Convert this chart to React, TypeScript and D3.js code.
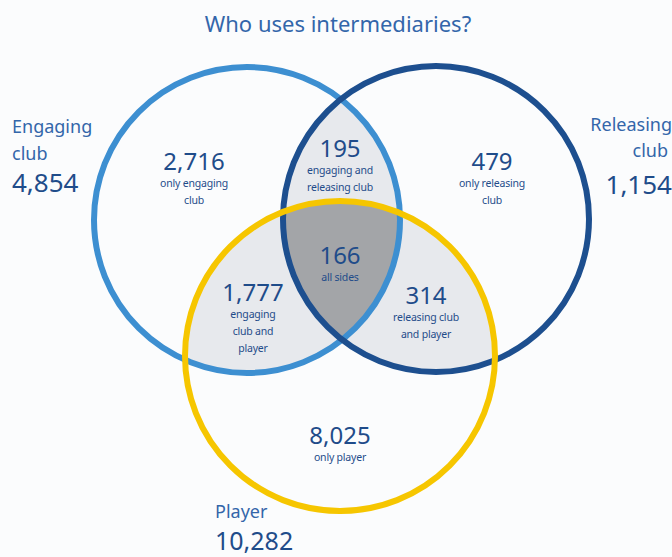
import React from "react";
import * as d3 from "d3";

const setNames = ["Engaging club", "Releasing club", "Player"];
const setTotals = [4854, 1154, 10282];
const regionValues = [2716, 479, 8025, 195, 1777, 314, 166];
const regionLabels = [
  ["only engaging", "club"],
  ["only releasing", "club"],
  ["only player"],
  ["engaging and", "releasing club"],
  ["engaging", "club and", "player"],
  ["releasing club", "and player"],
  ["all sides"],
];

const W = 672;
const H = 557;
const fmt = d3.format(",");

// layout (pixel geometry)
const circles = [
  { cx: 247, cy: 220, r: 153, color: "#3d8fd1" },
  { cx: 436, cy: 219, r: 153, color: "#1d4f8f" },
  { cx: 340, cy: 356, r: 155, color: "#f6c600" },
];
const regionPos: [number, number][] = [
  [194, 170],
  [492, 170],
  [340, 444],
  [340, 157],
  [253, 301],
  [426, 304],
  [340, 264],
];
const textColor = "#1f4c8a";

export default function App() {
  const arc = (c: { cx: number; cy: number; r: number }) => {
    const p = d3.path();
    p.arc(c.cx, c.cy, c.r, 0, Math.PI * 2);
    p.closePath();
    return p.toString();
  };
  return (
    <svg
      width={W}
      height={H}
      style={{ position: "absolute", left: 0, top: 0, background: "#fbfcfd" }}
      fontFamily="'Noto Sans', 'Open Sans', sans-serif"
    >
      <defs>
        {circles.map((c, i) => (
          <clipPath id={`clip${i}`} key={i}>
            <path d={arc(c)} />
          </clipPath>
        ))}
      </defs>
      <rect width={W} height={H} fill="#fbfcfd" />
      {/* pairwise intersections */}
      <g clipPath="url(#clip0)">
        <path d={arc(circles[1])} fill="#e7e9ed" />
        <path d={arc(circles[2])} fill="#e7e9ed" />
      </g>
      <g clipPath="url(#clip1)">
        <path d={arc(circles[2])} fill="#e7e9ed" />
      </g>
      {/* triple intersection */}
      <g clipPath="url(#clip0)">
        <g clipPath="url(#clip1)">
          <path d={arc(circles[2])} fill="#a3a5a8" />
        </g>
      </g>
      {circles.map((c, i) => (
        <path key={i} d={arc(c)} fill="none" stroke={c.color} strokeWidth={6} />
      ))}
      <text x={338} y={32} textAnchor="middle" fontSize={22} fill="#3366aa">
        Who uses intermediaries?
      </text>
      {regionValues.map((v, i) => {
        const [x, y] = regionPos[i];
        return (
          <g key={i} fill={textColor} textAnchor="middle">
            <text x={x} y={y} fontSize={24}>
              {fmt(v)}
            </text>
            {regionLabels[i].map((l, j) => (
              <text key={j} x={x} y={y + 17 + j * 17} fontSize={10.5} letterSpacing={-0.2}>
                {l}
              </text>
            ))}
          </g>
        );
      })}
      {/* set labels */}
      <g fill="#3366aa" fontSize={18}>
        <text x={12} y={133}>Engaging</text>
        <text x={12} y={160}>club</text>
        <text x={12} y={192} fontSize={26} fill={textColor}>{fmt(setTotals[0])}</text>
        <text x={672} y={131} textAnchor="end">Releasing</text>
        <text x={668} y={157} textAnchor="end">club</text>
        <text x={672} y={194} textAnchor="end" fontSize={26} fill={textColor}>{fmt(setTotals[1])}</text>
        <text x={215} y={518}>Player</text>
        <text x={215} y={550} fontSize={25} fill={textColor}>{fmt(setTotals[2])}</text>
      </g>
      <title>{setNames.join(", ")}</title>
    </svg>
  );
}
